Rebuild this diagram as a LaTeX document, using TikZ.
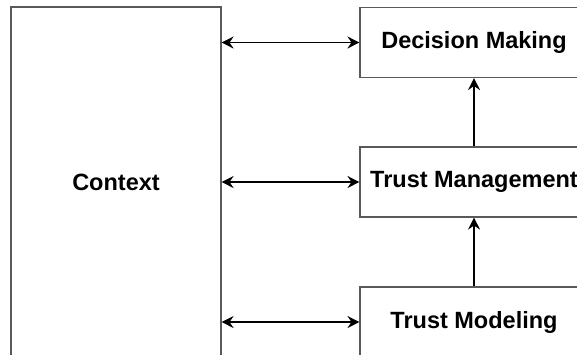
\documentclass[tikz,border=0pt]{standalone}
\usepackage{fontspec}
\setmainfont{Liberation Sans}
\usetikzlibrary{arrows.meta}

\begin{document}
\begin{tikzpicture}[x=1pt, y=-1pt,
    block/.style={draw=black!65, line width=1.1pt, rectangle, inner sep=0pt,
        font=\fontsize{23.5}{28}\selectfont\bfseries},
    link/.style={line width=1.5pt, {Stealth[length=12pt, width=12pt, inset=4pt]}-{Stealth[length=12pt, width=12pt, inset=4pt]}},
    up/.style={line width=1.5pt, -{Stealth[length=12pt, width=12pt, inset=4pt]}}]
    \useasboundingbox (0,0) rectangle (577,354);
    \clip (0,0) rectangle (577,354);

    % Context block
    \node[block, minimum width=210pt, minimum height=350pt] (context) at (116,182) {Context};

    % Trust layers
    \node[block, minimum width=228pt, minimum height=70pt] (decision) at (474,42.5) {Decision Making};
    \node[block, minimum width=228pt, minimum height=70pt] (management) at (474,182) {Trust Management};
    \node[block, minimum width=228pt, minimum height=70pt] (modeling) at (474,322) {Trust Modeling};

    % Connections with context
    \draw[link] (context.east |- decision.west) -- (decision.west);
    \draw[link] (context.east |- management.west) -- (management.west);
    \draw[link] (context.east |- modeling.west) -- (modeling.west);

    % Bottom-up flow
    \draw[up] (modeling) -- (management);
    \draw[up] (management) -- (decision);
\end{tikzpicture}
\end{document}
